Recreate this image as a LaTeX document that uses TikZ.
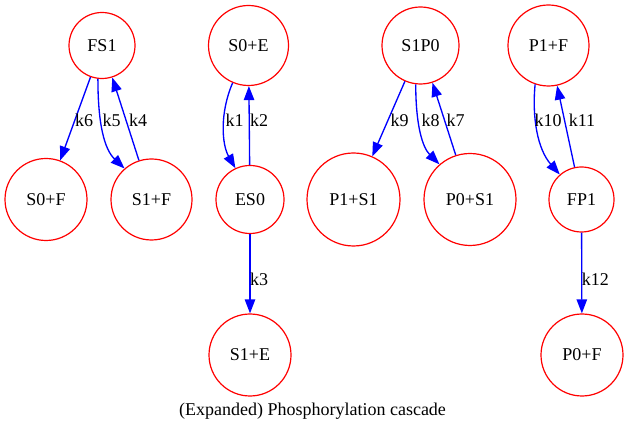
\documentclass[tikz,border=0pt]{standalone}
\usepackage{fontspec}
\setmainfont{Liberation Serif}
\usetikzlibrary{arrows.meta}
\begin{document}
\begin{tikzpicture}[x=0.75pt,y=0.75pt,
  st/.style={draw=red, line width=0.9pt, circle, inner sep=0pt, font=\fontsize{13.5}{16}\selectfont},
  ar/.style={draw=blue, line width=1pt, -{Triangle[length=10.5pt,width=7.8pt]}},
  lbl/.style={font=\fontsize{13.5}{16}\selectfont, anchor=base, inner sep=0pt}]
\useasboundingbox (0,0) rectangle (628,-427);
% nodes
\node[st, minimum size=49.5pt]  (fs1)  at (102,-45.5)   {FS1};
\node[st, minimum size=61.5pt]  (s0f)  at (46,-199.5)   {S0+F};
\node[st, minimum size=60.75pt] (s1f)  at (151.5,-199.5){S1+F};
\node[st, minimum size=60pt]    (s0e)  at (248.5,-45.5) {S0+E};
\node[st, minimum size=51pt]    (es0)  at (250,-199.5)  {ES0};
\node[st, minimum size=61.5pt]  (s1e)  at (250,-355)    {S1+E};
\node[st, minimum size=57.75pt] (s1p0) at (420.5,-45.5) {S1P0};
\node[st, minimum size=69.75pt] (p1s1) at (353.5,-199.5){P1+S1};
\node[st, minimum size=69pt]    (p0s1) at (470,-199.5)  {P0+S1};
\node[st, minimum size=60.75pt] (p1f)  at (548.5,-45.5) {P1+F};
\node[st, minimum size=48.75pt] (fp1)  at (581.5,-199.5){FP1};
\node[st, minimum size=61.5pt]  (p0f)  at (582,-355)    {P0+F};
% edges
\draw[ar] (fs1) -- (s0f) node[lbl, at={(84,-126.5)}] {k6};
\draw[ar] (fs1.263) .. controls +(0,-46) and +(-20,19) .. (s1f.131) node[lbl, at={(111.5,-126.5)}] {k5};
\draw[ar] (s1f) -- (fs1) node[lbl, at={(138,-126.5)}] {k4};
\draw[ar] (s0e.247) .. controls +(-13,-30) and +(-13.6,23.7) .. (es0.115) node[lbl, at={(234.5,-126.5)}] {k1};
\draw[ar] (es0) -- (s0e) node[lbl, at={(259,-126.5)}] {k2};
\draw[ar] (es0) -- (s1e) node[lbl, at={(259,-285.5)}] {k3};
\draw[ar] (s1p0) -- (p1s1) node[lbl, at={(399.5,-126.5)}] {k9};
\draw[ar] (s1p0.263) .. controls +(0,-41) and +(-17,17) .. (p0s1.131) node[lbl, at={(430.5,-126.5)}] {k8};
\draw[ar] (p0s1) -- (s1p0) node[lbl, at={(455.5,-126.5)}] {k7};
\draw[ar] (p1f.251) .. controls +(-3.3,-34) and +(-22,25) .. (fp1.131) node[lbl, at={(548,-126.5)}] {k10};
\draw[ar] (fp1) -- (p1f) node[lbl, at={(582,-126.5)}] {k11};
\draw[ar] (fp1) -- (p0f) node[lbl, at={(595.3,-285.5)}] {k12};
% title
\node[lbl] (title) at (312.5,-415) {(Expanded) Phosphorylation cascade};
\end{tikzpicture}
\end{document}
